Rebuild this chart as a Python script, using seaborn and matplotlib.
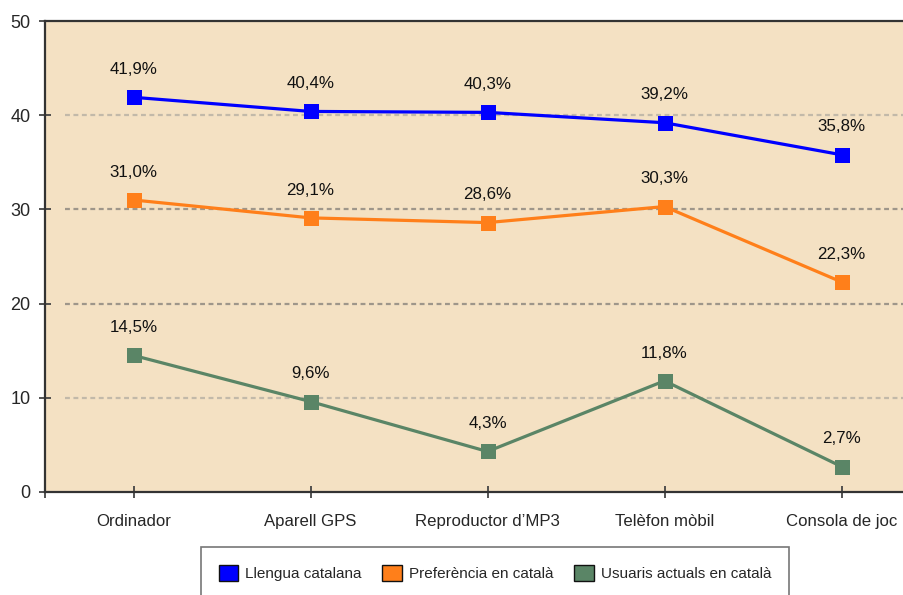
import matplotlib
matplotlib.use("Agg")
import matplotlib.pyplot as plt
from matplotlib.patches import Patch
import seaborn as sns
import pandas as pd

# Dispositius i percentatges per sèrie
devices = ["Ordinador", "Aparell GPS", "Reproductor d\u2019MP3", "Telèfon mòbil", "Consola de joc"]
llengua_catalana = [41.9, 40.4, 40.3, 39.2, 35.8]
preferencia_catala = [31.0, 29.1, 28.6, 30.3, 22.3]
usuaris_catala = [14.5, 9.6, 4.3, 11.8, 2.7]
series_names = ["Llengua catalana", "Preferència en català", "Usuaris actuals en català"]
series_values = [llengua_catalana, preferencia_catala, usuaris_catala]
y_ticks = [0, 10, 20, 30, 40, 50]

colors = ["#0000FF", "#FF7F1A", "#5A8566"]

rows = []
for name, vals in zip(series_names, series_values):
    for i, (d, v) in enumerate(zip(devices, vals)):
        rows.append({"idx": i, "device": d, "serie": name, "valor": v})
df = pd.DataFrame(rows)

sns.set_theme(style="white")
plt.rcParams["font.family"] = ["Liberation Sans", "DejaVu Sans"]

fig = plt.figure(figsize=(9.04, 5.95), dpi=100)
ax = fig.add_axes([45 / 904, 1 - 492 / 595, 885 / 904, 471 / 595])
ax.set_facecolor("#F4E1C3")

# Línies de referència discontínues
grid_styles = {10: "#C2B9A9", 20: "#9E968A", 30: "#9E968A", 40: "#C2B9A9"}
for yv, c in grid_styles.items():
    ax.hlines(yv, -0.387, 4.6, colors=c, linestyles=(0, (2.2, 1.6)), linewidth=1.6, zorder=1)

sns.lineplot(data=df, x="idx", y="valor", hue="serie", hue_order=series_names,
             palette=colors, marker="s", markersize=10.8, markeredgewidth=0,
             linewidth=2.3, legend=False, ax=ax, zorder=3)

# Etiquetes de valor
for vals in series_values:
    for i, v in enumerate(vals):
        ax.annotate(f"{v:.1f}%".replace(".", ","), (i, v), xytext=(0, 20),
                    textcoords="offset points", ha="center", va="center",
                    fontsize=12.2, color="#111111")

ax.set_xlim(-0.5, 4.5)
ax.set_ylim(0, 50)
ax.set_yticks(y_ticks)
ax.set_yticklabels([str(t) for t in y_ticks], fontsize=13)
ax.set_xticks(range(len(devices)))
ax.set_xticklabels(devices, fontsize=12.1)
ax.set_xticks([-0.5], minor=True)
ax.set_xlabel("")
ax.set_ylabel("")

for side in ["left", "top", "bottom"]:
    ax.spines[side].set_color("#333333")
    ax.spines[side].set_linewidth(1.6)
ax.spines["right"].set_visible(False)

ax.tick_params(axis="y", direction="inout", length=9, width=1.3, color="#444444", pad=6, left=True)
ax.tick_params(axis="x", which="both", direction="inout", length=9, width=1.3, color="#444444",
               pad=11, bottom=True)

handles = [Patch(facecolor=c, edgecolor="#111111", linewidth=1.0) for c in colors]
leg = fig.legend(handles, series_names, loc="upper left",
                 bbox_to_anchor=(201 / 904, 1 - 547 / 595), ncol=3, frameon=True,
                 fancybox=False, shadow=False, fontsize=11, handlelength=1.3,
                 handleheight=1.3, handletextpad=0.45, columnspacing=1.35,
                 borderpad=1.15, borderaxespad=0)
leg.get_frame().set_edgecolor("#555555")
leg.get_frame().set_linewidth(1.2)

fig.savefig("out.png", dpi=100)
